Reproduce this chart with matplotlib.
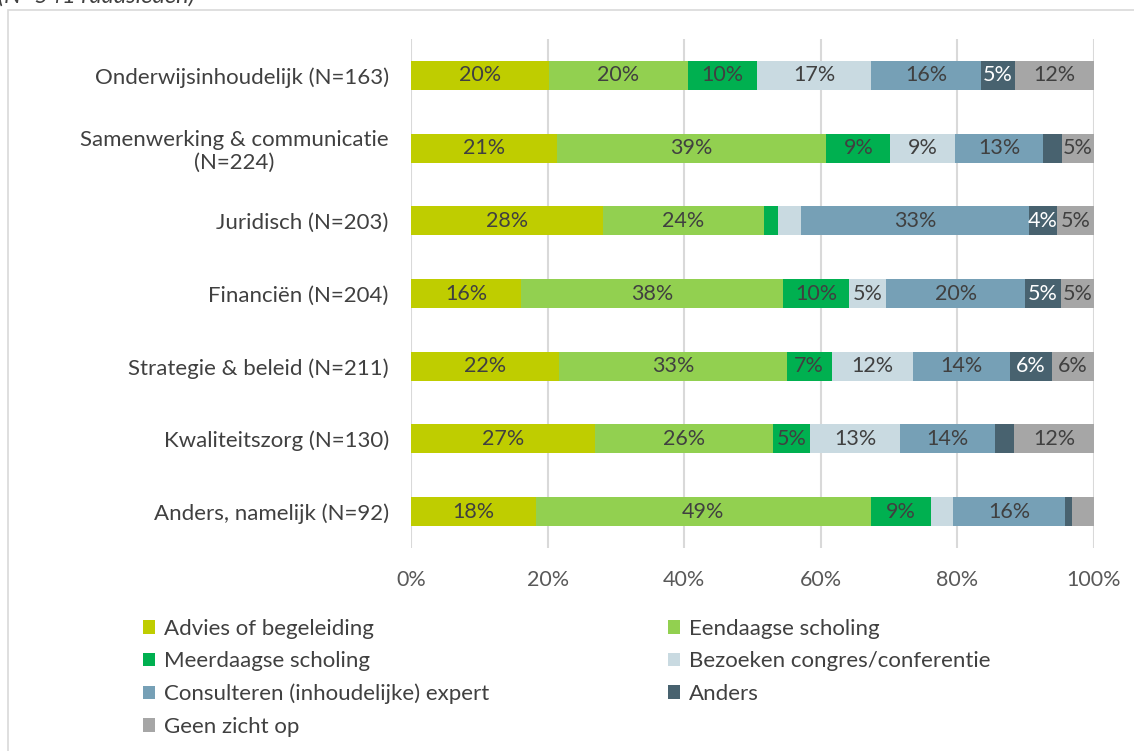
import matplotlib
matplotlib.use("Agg")
import matplotlib.pyplot as plt
from matplotlib.patches import Rectangle, Patch
import numpy as np

plt.rcParams['font.family'] = ['Lato', 'DejaVu Sans']

categories = [
    "Onderwijsinhoudelijk (N=163)",
    "Samenwerking & communicatie\n(N=224)",
    "Juridisch (N=203)",
    "Financiën (N=204)",
    "Strategie & beleid (N=211)",
    "Kwaliteitszorg (N=130)",
    "Anders, namelijk (N=92)",
]
series = [
    "Advies of begeleiding",
    "Eendaagse scholing",
    "Meerdaagse scholing",
    "Bezoeken congres/conferentie",
    "Consulteren (inhoudelijke) expert",
    "Anders",
    "Geen zicht op",
]
# percentages per category, per series (in order above)
advies      = [20.2, 21.4, 28.1, 16.1, 21.7, 26.9, 18.3]
eendaags    = [20.3, 39.4, 23.6, 38.4, 33.3, 26.1, 49.0]
meerdaags   = [10.2,  9.4,  2.0,  9.7,  6.6,  5.4,  8.8]
congres     = [16.7,  9.4,  3.4,  5.4, 11.9, 13.2,  3.2]
expert      = [16.0, 13.0, 33.4, 20.3, 14.2, 13.9, 16.5]
anders      = [ 5.1,  2.7,  4.1,  5.2,  6.1,  2.8,  1.0]
geen_zicht  = [11.5,  4.7,  5.4,  4.9,  6.2, 11.7,  3.2]
values = [advies, eendaags, meerdaags, congres, expert, anders, geen_zicht]
colors = ["#bfcd00", "#92d050", "#00b050", "#c9dae1", "#76a0b6", "#48626f", "#a6a6a6"]
label_colors = ["#404040"] * 5 + ["#ffffff", "#404040"]
xticks = [0, 20, 40, 60, 80, 100]
xticklabels = ["0%", "20%", "40%", "60%", "80%", "100%"]

W, H = 1134, 751
fig = plt.figure(figsize=(W/100, H/100), dpi=100)
# outer chart border
fig.patches.append(Rectangle((8/W, -0.1), 1.2, (H-10)/H + 0.1, transform=fig.transFigure,
                             fill=False, edgecolor="#d9d9d9", linewidth=1.2))
fig.text(-2/W, 1.0 - 3/H, "(N=541 raadsleden)", ha='left', va='baseline', fontsize=17,
         style='italic', color="#404040")

ax = fig.add_axes([411/W, (H-548)/H, (1094-411)/W, (548-39)/H])
y = np.arange(len(categories))
left = np.zeros(len(categories))
for vals, col, lc in zip(values, colors, label_colors):
    vals = np.array(vals)
    ax.barh(y, vals, left=left, height=0.4, color=col, edgecolor='none', zorder=3)
    for yi, (l, v) in enumerate(zip(left, vals)):
        if round(v) >= 4:
            ax.text(l + v/2, yi, f"{round(v)}%", ha='center', va='center',
                    fontsize=15.5, color=lc, zorder=4)
    left += vals

ax.set_xlim(0, 100)
ax.set_ylim(len(categories) - 0.5, -0.5)
ax.set_yticks(y)
ax.set_yticklabels(categories, fontsize=16, color="#404040", multialignment='center')
ax.set_xticks(xticks)
ax.set_xticklabels(xticklabels, fontsize=15.5, color="#595959")
ax.tick_params(axis='both', length=0)
ax.tick_params(axis='x', pad=16)
ax.tick_params(axis='y', pad=16)
for s in ax.spines.values():
    s.set_visible(False)
ax.grid(axis='x', color="#d9d9d9", linewidth=1.5, zorder=0)
ax.set_axisbelow(True)

order = [0, 2, 4, 6, 1, 3, 5]
handles = [Patch(facecolor=colors[i], edgecolor='none') for i in order]
labels = [series[i] for i in order]
leg = fig.legend(handles, labels, loc='upper left', bbox_to_anchor=(143/W, 1 - 619/H),
                 ncol=2, frameon=False, fontsize=16, handlelength=0.55, handleheight=0.55,
                 handletextpad=0.4, columnspacing=8.05, labelspacing=0.56, borderpad=0,
                 borderaxespad=0, labelcolor="#404040")

fig.savefig("out.png", dpi=100)
